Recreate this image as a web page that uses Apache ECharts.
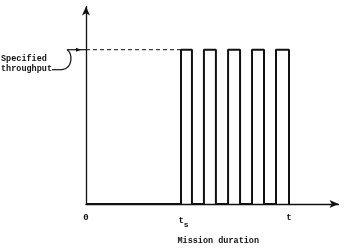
<!DOCTYPE html>
<html>
<head>
<meta charset="utf-8">
<script src="https://cdn.jsdelivr.net/npm/echarts@6/dist/echarts.min.js"></script>
<style>
html,body{margin:0;padding:0;background:#fff;}
#chart{width:350px;height:250px;}
</style>
</head>
<body>
<div id="chart"></div>
<script>
// ---- data (time in arbitrary units, mission end t = 10) ----
const level = 1;                                  // specified throughput
const pulseOn  = [4.68, 5.81, 7.00, 8.18, 9.36];  // rising edges
const pulseOff = [5.22, 6.40, 7.59, 8.77, 10.0];  // falling edges
const tsValue = 4.68;                             // t_s
const tEnd = 10.0;                                // t
const tickValues = [0, tsValue, tEnd];
const tickLabels = ['0', '{p|}{t|t}{s|s}', 't'];
const xMax = 12.44;
const yMax = 1.28;
const axisTitle = 'Mission duration';
const annotation = ['Specified', 'throughput'];

// build step trace from the arrays
const trace = [[0, 0]];
for (let i = 0; i < pulseOn.length; i++) {
  trace.push([pulseOn[i], 0], [pulseOn[i], level], [pulseOff[i], level], [pulseOff[i], 0]);
}
const dashed = [[0, level], [tsValue, level]];

const FONT = '"Liberation Mono", "DejaVu Sans Mono", monospace';
const chart = echarts.init(document.getElementById('chart'), null, {renderer: 'canvas'});
const option = {
  animation: false,
  backgroundColor: '#fff',
  grid: {left: 86, right: 11.5, top: 6.5, bottom: 42, containLabel: false},
  xAxis: {
    type: 'value', min: 0, max: xMax,
    splitLine: {show: false},
    axisTick: {show: false},
    axisLine: {show: true, symbol: ['none', 'arrow'], symbolSize: [6, 9],
      lineStyle: {color: '#111', width: 1.3}},
    axisLabel: {
      customValues: tickValues,
      margin: 9,
      fontFamily: FONT, fontSize: 9, fontWeight: 'bold', color: '#111',
      formatter: function (v) { const i = tickValues.indexOf(v); return i >= 0 ? tickLabels[i] : ''; },
      rich: {
        p: {width: 5, fontFamily: FONT, fontSize: 9},
        t: {fontFamily: FONT, fontSize: 9, fontWeight: 'bold', color: '#111'},
        s: {fontFamily: FONT, fontSize: 8, fontWeight: 'bold', color: '#111', padding: [8, 0, 0, 0]}
      }
    },
    name: axisTitle, nameLocation: 'middle', nameGap: 32,
    nameTextStyle: {fontFamily: FONT, fontSize: 8.5, fontWeight: 'bold', color: '#111', padding: [0, 0, 0, 12]}
  },
  yAxis: {
    type: 'value', min: 0, max: yMax,
    splitLine: {show: false},
    axisTick: {show: false},
    axisLabel: {show: false},
    axisLine: {show: true, symbol: ['none', 'arrow'], symbolSize: [6, 9],
      lineStyle: {color: '#111', width: 1.3}}
  },
  series: [
    {type: 'line', data: trace, symbol: 'none', silent: true,
      lineStyle: {color: '#111', width: 2}, z: 3},
    {type: 'line', data: dashed, symbol: 'none', silent: true,
      lineStyle: {color: '#111', width: 1, type: [4, 3]}, z: 2}
  ]
};
chart.setOption(option);

// annotation anchored to the specified level on the y axis
const P = chart.convertToPixel({gridIndex: 0}, [0, level]);
const x0 = P[0], y0 = P[1];
chart.setOption({
  graphic: [
    {type: 'text', x: 1, y: y0 + 4, silent: true,
      style: {text: annotation.join('\n'), font: 'bold 8.5px ' + FONT, fill: '#111', lineHeight: 10}},
    {type: 'line', silent: true,
      shape: {x1: x0 - 34, y1: y0 + 20, x2: x0 - 24, y2: y0 + 20},
      style: {stroke: '#111', lineWidth: 1.2}},
    {type: 'bezierCurve', silent: true,
      shape: {x1: x0 - 24, y1: y0 + 20, cpx1: x0 - 13, cpy1: y0 + 19, cpx2: x0 - 13, cpy2: y0 + 3, x2: x0 - 19, y2: y0},
      style: {stroke: '#111', lineWidth: 1.2, fill: null}},
    {type: 'line', silent: true,
      shape: {x1: x0 - 19, y1: y0, x2: x0, y2: y0},
      style: {stroke: '#111', lineWidth: 1.2}},
    {type: 'polygon', silent: true,
      shape: {points: [[x0 - 10, y0 - 2], [x0 - 5, y0], [x0 - 10, y0 + 2]]},
      style: {fill: '#111'}}
  ]
});
</script>
</body>
</html>
